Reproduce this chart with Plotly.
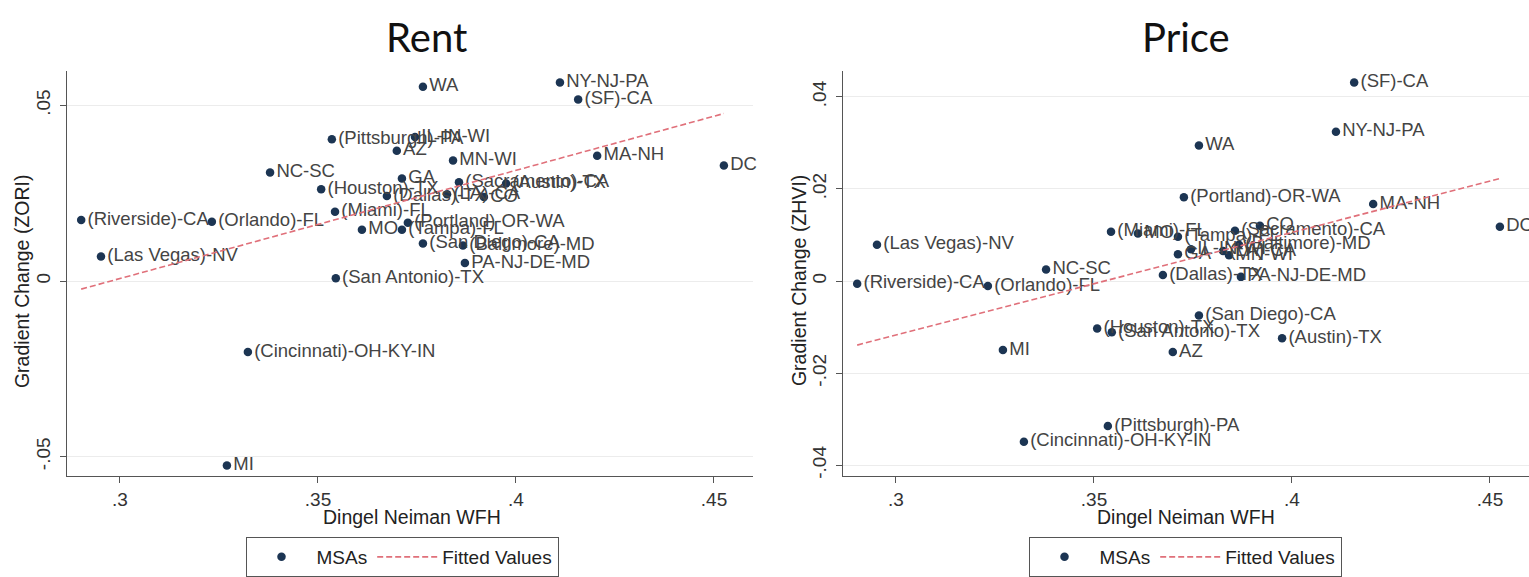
import numpy as np
import plotly.graph_objects as go

# MSA labels and values
msas = [
    "WA", "NY-NJ-PA", "(SF)-CA", "MA-NH", "DC", "MN-WI", "(Pittsburgh)-PA",
    "IL-IN-WI", "AZ", "NC-SC", "GA", "(Houston)-TX", "(Dallas)-TX",
    "(Sacramento)-CA", "(Austin)-TX", "CO", "(Riverside)-CA", "(Orlando)-FL",
    "(Miami)-FL", "MO", "(Portland)-OR-WA", "(Tampa)-FL", "(San Diego)-CA",
    "(Baltimore)-MD", "PA-NJ-DE-MD", "(Las Vegas)-NV", "(San Antonio)-TX",
    "(Cincinnati)-OH-KY-IN", "MI", "(LA)-CA",
]
wfh = [
    0.3765, 0.4111, 0.4157, 0.4205, 0.4525, 0.3841, 0.3535,
    0.3745, 0.3699, 0.3379, 0.3712, 0.3508, 0.3674,
    0.3856, 0.3975, 0.3919, 0.2902, 0.3232,
    0.3543, 0.3611, 0.3727, 0.3712, 0.3765,
    0.3866, 0.3871, 0.2952, 0.3545,
    0.3323, 0.3270, 0.3826,
]
rent_gradient = [
    0.0553, 0.0565, 0.0517, 0.0357, 0.0329, 0.0343, 0.0404,
    0.0410, 0.0371, 0.0309, 0.0292, 0.0261, 0.0242,
    0.0281, 0.0278, 0.0239, 0.0174, 0.0169,
    0.0197, 0.0146, 0.0166, 0.0146, 0.0107,
    0.0101, 0.0051, 0.0070, 0.0008,
    -0.0202, -0.0525, 0.0247,
]
price_gradient = [
    0.0294, 0.0324, 0.0431, 0.0167, 0.0118, 0.0056, -0.0315,
    0.0069, -0.0154, 0.0025, 0.0058, -0.0103, 0.0013,
    0.0109, -0.0124, 0.0120, -0.0006, -0.0011,
    0.0107, 0.0103, 0.0182, 0.0096, -0.0075,
    0.0079, 0.0009, 0.0079, -0.0111,
    -0.0349, -0.0150, 0.0065,
]

x_ticks = [0.30, 0.35, 0.40, 0.45]
x_tick_text = [".3", ".35", ".4", ".45"]
rent_ticks = [-0.05, 0.0, 0.05]
rent_tick_text = ["-.05", "0", ".05"]
price_ticks = [-0.04, -0.02, 0.0, 0.02, 0.04]
price_tick_text = ["-.04", "-.02", "0", ".02", ".04"]

MARKER = "#1c3553"
FIT = "#e0707a"
LABEL = "#444444"
FONT = "Liberation Sans"

W, H = 1529, 577


def fitted(x, y):
    x = np.asarray(x)
    slope, intercept = np.polyfit(x, np.asarray(y), 1)
    xs = np.array([x.min(), x.max()])
    return xs, intercept + slope * xs


fig = go.Figure()

panels = [
    ("x", "y", rent_gradient, "legend"),
    ("x2", "y2", price_gradient, "legend2"),
]
for xa, ya, yvals, leg in panels:
    fig.add_trace(go.Scatter(
        x=wfh, y=yvals, text=msas, mode="markers+text",
        textposition="middle right",
        textfont=dict(family=FONT, size=18.5, color=LABEL),
        marker=dict(color=MARKER, size=8.5),
        name="MSAs", xaxis=xa, yaxis=ya, legend=leg, cliponaxis=False,
    ))
    fx, fy = fitted(wfh, yvals)
    fig.add_trace(go.Scatter(
        x=fx, y=fy, mode="lines",
        line=dict(color=FIT, width=1.6, dash="6px,3px"),
        name="Fitted Values", xaxis=xa, yaxis=ya, legend=leg,
    ))

x_range = [0.28662, 0.45985]
y_dom = [94 / H, 505 / H]

axis_common = dict(
    showline=True, linecolor="#555555", linewidth=1,
    ticks="outside", ticklen=6, tickcolor="#555555",
    tickfont=dict(family=FONT, size=19, color="#333333"),
    zeroline=False,
)

legend_common = dict(
    orientation="h", xanchor="center", y=32 / H, yanchor="top",
    bordercolor="#555555", borderwidth=1, bgcolor="white",
    font=dict(family=FONT, size=19, color="#222"), itemwidth=60,
)

fig.update_layout(
    width=W, height=H,
    margin=dict(l=0, r=0, t=0, b=0),
    paper_bgcolor="white", plot_bgcolor="white",
    xaxis=dict(domain=[67 / W, 753 / W], range=x_range, tickvals=x_ticks,
               ticktext=x_tick_text, showgrid=False, anchor="y", **axis_common),
    yaxis=dict(domain=y_dom, range=[-0.0556, 0.0598], tickvals=rent_ticks,
               ticktext=rent_tick_text, tickangle=-90, showgrid=True,
               gridcolor="#ececec", anchor="x", ticklabelstandoff=2,
               **axis_common),
    xaxis2=dict(domain=[843 / W, 1.0], range=x_range, tickvals=x_ticks,
                ticktext=x_tick_text, showgrid=False, anchor="y2", **axis_common),
    yaxis2=dict(domain=y_dom, range=[-0.0424, 0.0456], tickvals=price_ticks,
                ticktext=price_tick_text, tickangle=-90, showgrid=True,
                gridcolor="#ececec", anchor="x2", ticklabelstandoff=2,
                **axis_common),
    legend=dict(x=402 / W, **legend_common),
    legend2=dict(x=1185 / W, **legend_common),
    showlegend=True,
)

annotations = [
    dict(text="Rent", x=426 / W, y=1 - 38 / H, font=dict(family="Lato", size=40, color="#111")),
    dict(text="Price", x=1186 / W, y=1 - 38 / H, font=dict(family="Lato", size=40, color="#111")),
    dict(text="Dingel Neiman WFH", x=412 / W, y=1 - 524 / H, font=dict(family=FONT, size=19.5, color="#222")),
    dict(text="Dingel Neiman WFH", x=1186 / W, y=1 - 524 / H, font=dict(family=FONT, size=19.5, color="#222")),
    dict(text="Gradient Change (ZORI)", x=22 / W, y=1 - 285 / H, textangle=-90,
         font=dict(family=FONT, size=19.5, color="#222")),
    dict(text="Gradient Change (ZHVI)", x=799 / W, y=1 - 285 / H, textangle=-90,
         font=dict(family=FONT, size=19.5, color="#222")),
]
for a in annotations:
    a.update(xref="paper", yref="paper", showarrow=False, xanchor="center", yanchor="middle")
fig.update_layout(annotations=annotations)

fig.write_html("out.html")
